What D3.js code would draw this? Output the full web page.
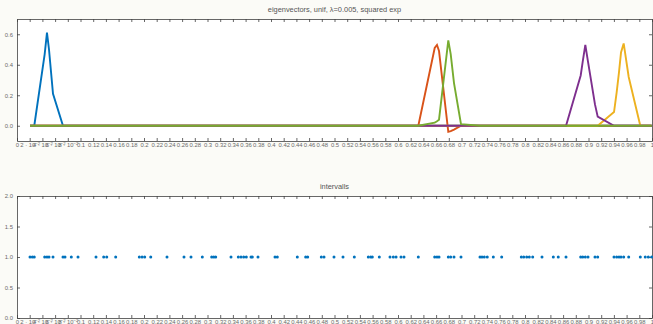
<!DOCTYPE html>
<html>
<head>
<meta charset="utf-8">
<script src="https://cdn.jsdelivr.net/npm/d3@7"></script>
<style>
  body { margin: 0; background: #fbfbf7; }
  svg { display: block; font-family: "Liberation Sans", Arial, sans-serif; }
</style>
</head>
<body>
<svg id="chart" width="653" height="324"></svg>
<script>
var gridPoints = [0.0205, 0.0241, 0.0272, 0.0436, 0.0472, 0.0504, 0.0567, 0.0724, 0.0756, 0.0855,
  0.0961, 0.1244, 0.1365, 0.1413, 0.1554, 0.1926, 0.1969, 0.2011, 0.2106, 0.2362,
  0.2630, 0.2740, 0.2918, 0.3066, 0.3098, 0.3129, 0.3370, 0.3485, 0.3528, 0.3570,
  0.3611, 0.3685, 0.3706, 0.3795, 0.4063, 0.4099, 0.4414, 0.4546, 0.4578, 0.4792,
  0.4835, 0.4992, 0.5134, 0.5312, 0.5532, 0.5570, 0.5595, 0.5706, 0.5874, 0.5926,
  0.5969, 0.6047, 0.6094, 0.6320, 0.6578, 0.6614, 0.6646, 0.6792, 0.6830, 0.6882,
  0.6992, 0.7291, 0.7323, 0.7359, 0.7406, 0.7501, 0.7633, 0.7942, 0.7980, 0.8027,
  0.8068, 0.8121, 0.8268, 0.8446, 0.8524, 0.8646, 0.8877, 0.8909, 0.8950, 0.8992,
  0.9102, 0.9145, 0.9402, 0.9444, 0.9480, 0.9512, 0.9554, 0.9633, 0.9816, 0.9894,
  0.9942, 0.9995];
var intervalLevel = 1;

// eigenvectors, [x, value] where the curve bends
var vecBlue   = [[0.0205, 0], [0.0272, 0], [0.0436, 0.47], [0.0472, 0.61], [0.0504, 0.50],
                 [0.0567, 0.21], [0.0724, 0], [0.9995, 0]];
var vecOrange = [[0.0205, 0], [0.6320, 0], [0.6578, 0.51], [0.6614, 0.53], [0.6646, 0.49],
                 [0.6792, -0.04], [0.6830, -0.035], [0.6882, -0.025], [0.6992, 0], [0.9995, 0]];
var vecYellow = [[0.0205, 0], [0.9145, 0], [0.9402, 0.09], [0.9444, 0.22], [0.9480, 0.35],
                 [0.9512, 0.48], [0.9554, 0.54], [0.9633, 0.32], [0.9816, 0], [0.9995, 0]];
var vecPurple = [[0.0205, 0], [0.8646, 0], [0.8877, 0.33], [0.8909, 0.42], [0.8950, 0.53],
                 [0.8992, 0.42], [0.9102, 0.14], [0.9145, 0.06], [0.9402, 0], [0.9995, 0]];
var vecGreen  = [[0.0205, 0], [0.6320, 0], [0.6578, 0.02], [0.6614, 0.03], [0.6646, 0.04],
                 [0.6792, 0.56], [0.6830, 0.47], [0.6882, 0.28], [0.6992, 0.01], [0.7291, 0], [0.9995, 0]];
var seriesColors = ["#0072BD", "#D95319", "#EDB120", "#7E2F8E", "#77AC30"];

var xTicks = [0, 0.02, 0.04, 0.06, 0.08, 0.1, 0.12, 0.14, 0.16, 0.18, 0.2, 0.22, 0.24, 0.26, 0.28,
  0.3, 0.32, 0.34, 0.36, 0.38, 0.4, 0.42, 0.44, 0.46, 0.48, 0.5, 0.52, 0.54, 0.56, 0.58, 0.6,
  0.62, 0.64, 0.66, 0.68, 0.7, 0.72, 0.74, 0.76, 0.78, 0.8, 0.82, 0.84, 0.86, 0.88, 0.9, 0.92,
  0.94, 0.96, 0.98, 1];
var yTicksTop = [0, 0.2, 0.4, 0.6];
var yTicksBottom = [0, 0.5, 1, 1.5, 2];

var svg = d3.select("#chart");
var axisColor = "#404040", labelColor = "#6a6a6a";

var x = d3.scaleLinear().domain([0, 1]).range([17, 652]);

function drawFrame(y, yTicks, top, bottom, title) {
  svg.append("rect").attr("x", 17).attr("y", top).attr("width", 635).attr("height", bottom - top)
    .attr("fill", "#fff");

  var gB = svg.append("g").attr("transform", "translate(0," + bottom + ")")
    .call(d3.axisBottom(x).tickValues(xTicks).tickSizeInner(-3).tickSizeOuter(0).tickPadding(1.5));
  var gT = svg.append("g").attr("transform", "translate(0," + top + ")")
    .call(d3.axisTop(x).tickValues(xTicks).tickSizeInner(-3).tickSizeOuter(0).tickFormat(""));
  var gL = svg.append("g").attr("transform", "translate(17,0)")
    .call(d3.axisLeft(y).tickValues(yTicks).tickSizeInner(-3).tickSizeOuter(0).tickPadding(4));
  var gR = svg.append("g").attr("transform", "translate(652,0)")
    .call(d3.axisRight(y).tickValues(yTicks).tickSizeInner(-3).tickSizeOuter(0).tickFormat(""));

  [gB, gT, gL, gR].forEach(function(g) {
    g.attr("font-family", null).attr("font-size", 5.9);
    g.selectAll("path, line").attr("stroke", axisColor).attr("stroke-width", 0.8);
    g.selectAll("text").attr("fill", labelColor);
  });

  // small values are written as a * 10^-2
  gB.selectAll(".tick text").each(function(d) {
    var t = d3.select(this);
    t.text(null);
    if (d > 0 && d < 0.1) {
      t.append("tspan").text(Math.round(d * 100) + " \u00b7 10");
      t.append("tspan").attr("dy", "-0.45em").attr("font-size", 4.2).text("\u22122");
    } else {
      t.append("tspan").text(d3.format("~g")(d));
    }
  });

  svg.append("text").attr("x", 334.5).attr("y", top - 7).attr("text-anchor", "middle")
    .attr("font-size", 7.4).attr("fill", "#555").text(title);
}

// top panel: eigenvectors
var yTop = d3.scaleLinear().domain([-0.1, 0.7]).range([141, 19]);
drawFrame(yTop, yTicksTop, 19, 141, "eigenvectors, unif, \u03bb=0.005, squared exp");

var line = d3.line().x(function(d) { return x(d[0]); }).y(function(d) { return yTop(d[1]); });
[vecBlue, vecOrange, vecYellow, vecPurple, vecGreen].forEach(function(v, i) {
  svg.append("path").datum(v).attr("d", line)
    .attr("fill", "none").attr("stroke", seriesColors[i]).attr("stroke-width", 1.9)
    .attr("stroke-linejoin", "miter");
});

// bottom panel: intervals
var yBot = d3.scaleLinear().domain([0, 2]).range([318, 196]);
drawFrame(yBot, yTicksBottom, 196, 318, "intervalls");

svg.append("g").selectAll("circle").data(gridPoints).enter()
  .append("circle")
  .attr("cx", function(d) { return x(d); })
  .attr("cy", yBot(intervalLevel))
  .attr("r", 1.5)
  .attr("fill", "#0072BD");
</script>
</body>
</html>
